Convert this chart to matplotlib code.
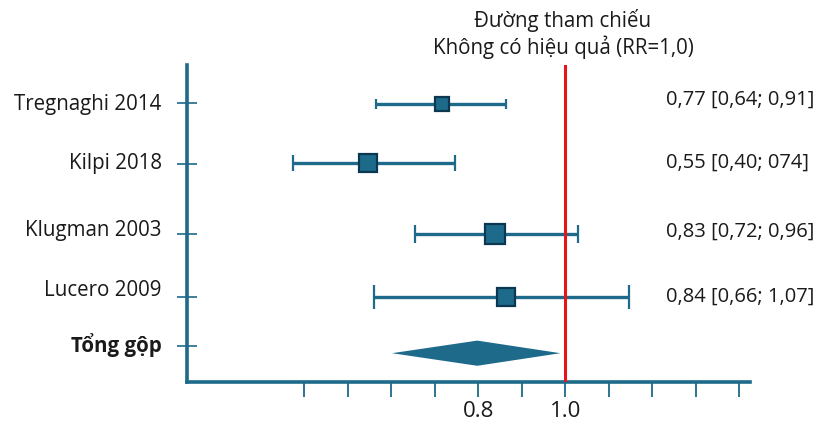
import matplotlib
matplotlib.use("Agg")
import matplotlib.pyplot as plt

# Data #
studies = ["Tregnaghi 2014", "Kilpi 2018", "Klugman 2003", "Lucero 2009"]
pooled_label = "Tổng gộp"
# positions as drawn on the axis
est = [0.717, 0.547, 0.839, 0.864]
low = [0.566, 0.375, 0.655, 0.561]
high = [0.864, 0.747, 1.03, 1.147]
pooled = [0.602, 0.798, 0.989]  # low, estimate, high
ci_text = ["0,77 [0,64; 0,91]", "0,55 [0,40; 074]", "0,83 [0,72; 0,96]", "0,84 [0,66; 1,07]"]
xtick_vals = [0.4, 0.5, 0.6, 0.7, 0.8, 0.9, 1.0, 1.1, 1.2, 1.3, 1.4]
xtick_labels = ["", "", "", "", "0.8", "", "1.0", "", "", "", ""]
ref_line = 1.0
ref_text = ["Đường tham chiếu", "Không có hiệu quả (RR=1,0)"]

# Layout #
row_y = [4.63, 3.65, 2.47, 1.42]
pooled_y = 0.48
tick_y = [4.65, 3.63, 2.47, 1.42, 0.6]
label_y = [4.62, 3.65, 2.53, 1.53, 0.62]
text_y = [4.7, 3.65, 2.5, 1.42]
box_size = [10, 13, 14.5, 13]
cap_size = [3.5, 5.5, 6.8, 8.5]

teal = "#1d6a8b"
dark = "#0b3850"
ink = "#1a1a1a"
fs = 14.8

plt.rcParams['font.family'] = ['Open Sans', 'Noto Sans', 'DejaVu Sans']

fig = plt.figure(figsize=(8.33, 4.25), dpi=100)
ax = fig.add_axes([0.2245, 0.1012, 0.676, 0.7458])
ax.set_xlim(0.131, 1.425)
ax.set_ylim(0, 5.283)

for i in range(len(studies)):
    ax.errorbar(est[i], row_y[i], xerr=[[est[i] - low[i]], [high[i] - est[i]]],
                fmt='s', color=teal, ecolor=teal, elinewidth=2.4, capsize=cap_size[i],
                capthick=2.4, markersize=box_size[i], markerfacecolor=teal,
                markeredgecolor=dark, markeredgewidth=1.6, zorder=3)
    ax.text(0.851, text_y[i], ci_text[i], transform=ax.get_yaxis_transform(),
            ha='left', va='center', fontsize=14.5, color=ink)

# pooled diamond
h = 0.21
ax.fill([pooled[0], pooled[1], pooled[2], pooled[1]],
        [pooled_y, pooled_y + h, pooled_y, pooled_y - h], color=teal, lw=0, zorder=3)

# reference line
ax.axvline(ref_line, color='#e8141b', lw=2.2, zorder=4)
fig.text(563 / 833, 1 - 20 / 425, ref_text[0], ha='center', va='center', fontsize=fs, color=ink)
fig.text(563 / 833, 1 - 47 / 425, ref_text[1], ha='center', va='center', fontsize=fs, color=ink)

# row labels
for i, name in enumerate(studies + [pooled_label]):
    ax.text(-0.045, label_y[i], name, transform=ax.get_yaxis_transform(),
            ha='right', va='center', fontsize=fs, color=ink,
            fontweight='bold' if name == pooled_label else 'normal')

ax.set_yticks(tick_y)
ax.set_yticklabels([])
ax.tick_params(axis='y', direction='inout', length=14, width=1.2, color=teal)
ax.set_xticks(xtick_vals)
ax.set_xticklabels(xtick_labels, fontsize=16, color=ink)
ax.tick_params(axis='x', direction='out', length=11, width=1.3, color=teal, pad=3)

for s in ['top', 'right']:
    ax.spines[s].set_visible(False)
for s in ['left', 'bottom']:
    ax.spines[s].set_color(teal)
    ax.spines[s].set_linewidth(2.6)

plt.savefig("out.png", dpi=100)
